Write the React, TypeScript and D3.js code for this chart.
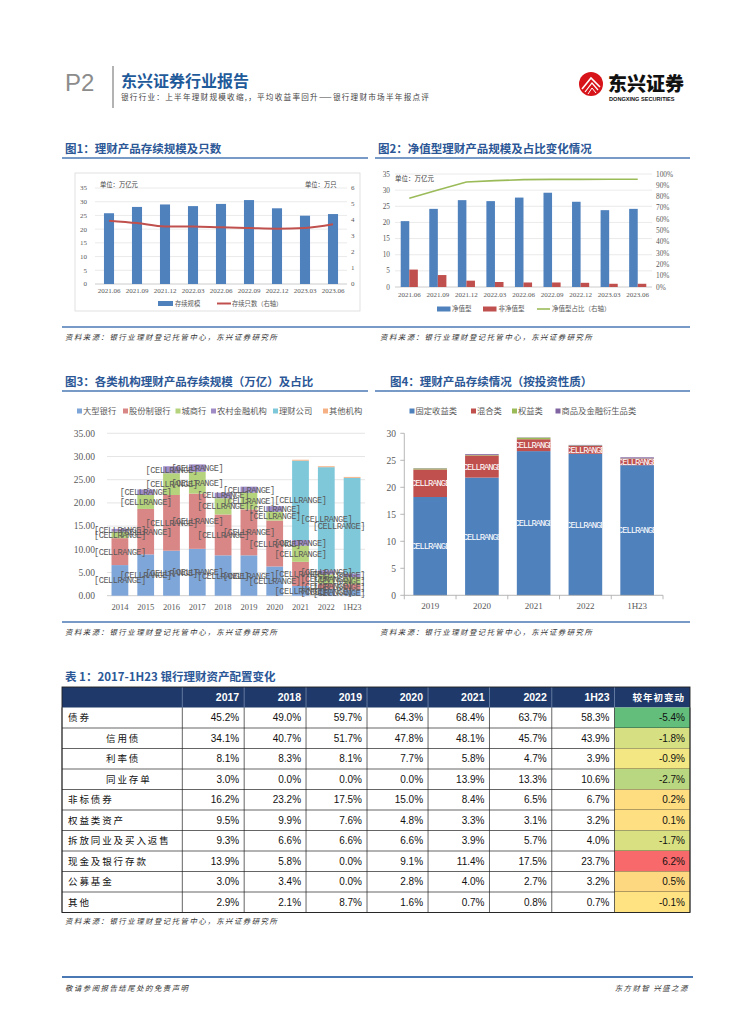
import React from "react";
import * as d3 from "d3";

const CJK = "'Noto Sans CJK SC', 'Noto Sans', sans-serif";
const SERIF = "'Liberation Serif', 'DejaVu Serif', serif";
const MONO = "'Liberation Mono', 'DejaVu Sans Mono', monospace";
const ARIAL = "'Liberation Sans', Arial, sans-serif";
const TITLE_BLUE = "#2b5797";
const RULE_BLUE = "#4a78b5";
const AXIS_GREY = "#595959";

// ---------------- Chart 1 data ----------------
const c1Periods = ["2021.06", "2021.09", "2021.12", "2022.03", "2022.06", "2022.09", "2022.12", "2023.03", "2023.06"];
const c1Balance = [25.8, 28.1, 29.0, 28.4, 29.2, 30.6, 27.6, 24.9, 25.5];
const c1Count = [3.96, 3.81, 3.6, 3.6, 3.54, 3.5, 3.46, 3.5, 3.73];
const c1LeftTicks = [0, 5, 10, 15, 20, 25, 30, 35];
const c1RightTicks = [0, 1, 2, 3, 4, 5, 6];

// ---------------- Chart 2 data ----------------
const c2Periods = ["2021.06", "2021.09", "2021.12", "2022.03", "2022.06", "2022.09", "2022.12", "2023.03", "2023.06"];
const c2NetValue = [20.4, 24.2, 26.9, 26.6, 27.7, 29.2, 26.4, 23.8, 24.2];
const c2NonNet = [5.4, 3.7, 1.96, 1.55, 1.4, 1.4, 1.3, 1.0, 1.0];
const c2Share = [78.5, 85.8, 92.9, 94.1, 95.0, 95.2, 95.2, 95.3, 95.3];
const c2LeftTicks = [0, 5, 10, 15, 20, 25, 30, 35];
const c2RightTicks = [0, 10, 20, 30, 40, 50, 60, 70, 80, 90, 100];

// ---------------- Chart 3 data ----------------
const c3Years = ["2014", "2015", "2016", "2017", "2018", "2019", "2020", "2021", "2022", "1H23"];
const c3SeriesNames = ["大型银行", "股份制银行", "城商行", "农村金融机构", "理财公司", "其他机构"];
const c3Large = [6.6, 8.9, 9.7, 10.1, 8.7, 8.7, 6.3, 2.1, 1.5, 1.3];
const c3JointStock = [5.8, 9.8, 12.0, 11.9, 8.8, 9.9, 9.9, 5.2, 1.1, 1.2];
const c3CityComm = [1.4, 3.0, 4.7, 4.7, 3.5, 3.6, 1.9, 3.5, 2.0, 1.5];
const c3Rural = [0.6, 1.2, 1.5, 1.6, 1.2, 1.3, 1.2, 1.2, 0.9, 0.8];
const c3WmCompany = [0, 0, 0, 0, 0, 0, 0, 17.1, 22.2, 20.6];
const c3Other = [0, 0, 0, 0, 0, 0, 0, 0.2, 0.2, 0.2];
const c3Colors = ["#7fa6d9", "#d98686", "#b5d27c", "#9f8cc7", "#7ec8da", "#f5b183"];
const c3Ticks = [0, 5, 10, 15, 20, 25, 30, 35];

// ---------------- Chart 4 data ----------------
const c4Years = ["2019", "2020", "2021", "2022", "1H23"];
const c4SeriesNames = ["固定收益类", "混合类", "权益类", "商品及金融衍生品类"];
const c4Fixed = [18.2, 21.8, 26.7, 26.2, 24.1];
const c4Mixed = [5.1, 4.1, 2.2, 1.45, 1.2];
const c4Equity = [0.2, 0.1, 0.3, 0.1, 0.05];
const c4Commodity = [0.05, 0.15, 0.05, 0.1, 0.2];
const c4Colors = ["#4f81bd", "#c0504d", "#9bbb59", "#8064a2"];
const c4Ticks = [0, 5, 10, 15, 20, 25, 30];

// ---------------- Table data ----------------
const tHeaders = ["2017", "2018", "2019", "2020", "2021", "2022", "1H23", "较年初变动"];
const tItems = ["债券", "信用债", "利率债", "同业存单", "非标债券", "权益类资产", "拆放同业及买入返售", "现金及银行存款", "公募基金", "其他"];
const tIndented = [false, true, true, true, false, false, false, false, false, false];
const t2017 = [45.2, 34.1, 8.1, 3.0, 16.2, 9.5, 9.3, 13.9, 3.0, 2.9];
const t2018 = [49.0, 40.7, 8.3, 0.0, 23.2, 9.9, 6.6, 5.8, 3.4, 2.1];
const t2019 = [59.7, 51.7, 8.1, 0.0, 17.5, 7.6, 6.6, 0.0, 0.0, 8.7];
const t2020 = [64.3, 47.8, 7.7, 0.0, 15.0, 4.8, 6.6, 9.1, 2.8, 1.6];
const t2021 = [68.4, 48.1, 5.8, 13.9, 8.4, 3.3, 3.9, 11.4, 4.0, 0.7];
const t2022 = [63.7, 45.7, 4.7, 13.3, 6.5, 3.1, 5.7, 17.5, 2.7, 0.8];
const t1H23 = [58.3, 43.9, 3.9, 10.6, 6.7, 3.2, 4.0, 23.7, 3.2, 0.7];
const tChange = [-5.4, -1.8, -0.9, -2.7, 0.2, 0.1, -1.7, 6.2, 0.5, -0.1];

const SOURCE = "资料来源：银行业理财登记托管中心，东兴证券研究所";

function Title({ x, y, text, x1, x2 }: { x: number; y: number; text: string; x1: number; x2: number }) {
  return (
    <g>
      <text x={x} y={y} fontFamily={CJK} fontWeight={700} fontSize={11.5} fill={TITLE_BLUE}>{text}</text>
      <line x1={x1} x2={x2} y1={y + 5} y2={y + 5} stroke={RULE_BLUE} strokeWidth={1.5} />
    </g>
  );
}

function Note({ x, y, text, anchor }: { x: number; y: number; text: string; anchor?: string }) {
  return (
    <text x={x} y={y} textAnchor={anchor ?? "start"} fontFamily={CJK} fontStyle="italic" fontSize={7.4} letterSpacing={1.5} fill="#333">{text}</text>
  );
}

function Header() {
  return (
    <g>
      <text x={65} y={91} fontFamily={ARIAL} fontSize={24} fill="#8c8c8c">P2</text>
      <line x1={113} x2={113} y1={66} y2={108} stroke="#9a9a9a" strokeWidth={1.5} />
      <text x={121} y={87} fontFamily={CJK} fontWeight={700} fontSize={16} fill="#1f5a9a">东兴证券行业报告</text>
      <text x={121} y={100} fontFamily={CJK} fontSize={7.6} letterSpacing={1.25} fill="#444">银行行业：上半年理财规模收缩,，平均收益率回升——银行理财市场半年报点评</text>
      <circle cx={591} cy={84} r={12} fill="#d7141a" />
      <path d="M582 89 L591 78 L600 87" fill="none" stroke="#fff" strokeWidth={1.6} />
      <path d="M585 92 L592 83 L598 90" fill="none" stroke="#fff" strokeWidth={1.2} />
      <path d="M588 94 L592 88 L596 93" fill="none" stroke="#fff" strokeWidth={1} />
      <text x={608} y={91} fontFamily={CJK} fontWeight={900} fontSize={19} fill="#111">东兴证券</text>
      <text x={609} y={101} fontFamily={ARIAL} fontWeight={700} fontSize={5.6} fill="#111">DONGXING SECURITIES</text>
    </g>
  );
}

function Chart1() {
  const x = d3.scaleBand<string>().domain(c1Periods).range([95, 347]).paddingInner(0.64).paddingOuter(0.32);
  const yL = d3.scaleLinear().domain([0, 35]).range([284, 188]);
  const yR = d3.scaleLinear().domain([0, 6]).range([284, 188]);
  const cx = (p: string) => (x(p) ?? 0) + x.bandwidth() / 2;
  const line = d3.line<number>().x((_, i) => cx(c1Periods[i])).y((d) => yR(d)).curve(d3.curveMonotoneX);
  return (
    <g>
      <Title x={65} y={153} text="图1：理财产品存续规模及只数" x1={62} x2={368} />
      <rect x={75} y={173} width={285} height={138} fill="none" stroke="#d9d9d9" strokeWidth={0.8} />
      {c1LeftTicks.map((t) => (
        <line key={"g" + t} x1={95} x2={347} y1={yL(t)} y2={yL(t)} stroke={t === 0 ? "#bfbfbf" : "#e4e4e4"} strokeWidth={0.8} />
      ))}
      {c1LeftTicks.map((t) => (
        <text key={"l" + t} x={87} y={yL(t)} dy="0.35em" textAnchor="end" fontFamily={SERIF} fontSize={7} fill={AXIS_GREY}>{t}</text>
      ))}
      {c1RightTicks.map((t) => (
        <text key={"r" + t} x={351} y={yR(t)} dy="0.35em" fontFamily={SERIF} fontSize={7} fill={AXIS_GREY}>{t}</text>
      ))}
      {c1Periods.map((p, i) => (
        <rect key={p} x={x(p)} y={yL(c1Balance[i])} width={x.bandwidth()} height={yL(0) - yL(c1Balance[i])} fill="#4f81bd" />
      ))}
      <path d={line(c1Count) ?? ""} fill="none" stroke="#c0504d" strokeWidth={2} />
      {c1Periods.map((p) => (
        <text key={"x" + p} x={cx(p)} y={291} dy="0.35em" textAnchor="middle" fontFamily={SERIF} fontSize={7} fill={AXIS_GREY}>{p}</text>
      ))}
      <text x={100} y={184.5} dy="0.35em" fontFamily={CJK} fontSize={6.3} fill="#404040">单位：万亿元</text>
      <text x={305} y={184.5} dy="0.35em" fontFamily={CJK} fontSize={6.3} fill="#404040">单位：万只</text>
      <rect x={158} y={301} width={15} height={5} fill="#4f81bd" />
      <text x={175} y={303.5} dy="0.35em" fontFamily={CJK} fontSize={6.3} fill={AXIS_GREY}>存续规模</text>
      <line x1={217} x2={231} y1={303.5} y2={303.5} stroke="#c0504d" strokeWidth={2} />
      <text x={232} y={303.5} dy="0.35em" fontFamily={CJK} fontSize={6.3} fill={AXIS_GREY}>存续只数（右轴）</text>
    </g>
  );
}

function Chart2() {
  const x = d3.scaleBand<string>().domain(c2Periods).range([395, 652]).paddingInner(0.4).paddingOuter(0.2);
  const x1 = d3.scaleBand<string>().domain(["net", "non"]).range([0, x.bandwidth()]);
  const yL = d3.scaleLinear().domain([0, 35]).range([287, 174]);
  const yR = d3.scaleLinear().domain([0, 100]).range([287, 174]);
  const cx = (p: string) => (x(p) ?? 0) + x.bandwidth() / 2;
  const line = d3.line<number>().x((_, i) => cx(c2Periods[i])).y((d) => yR(d));
  return (
    <g>
      <Title x={378} y={153} text="图2：净值型理财产品规模及占比变化情况" x1={375} x2={690} />
      {c2LeftTicks.map((t) => (
        <line key={"g" + t} x1={395} x2={652} y1={yL(t)} y2={yL(t)} stroke={t === 0 ? "#bfbfbf" : "#e4e4e4"} strokeWidth={0.8} />
      ))}
      {c2LeftTicks.map((t) => (
        <text key={"l" + t} x={390} y={yL(t)} dy="0.35em" textAnchor="end" fontFamily={SERIF} fontSize={7.3} fill={AXIS_GREY}>{t}</text>
      ))}
      {c2RightTicks.map((t) => (
        <text key={"r" + t} x={656} y={yR(t)} dy="0.35em" fontFamily={SERIF} fontSize={7.3} fill={AXIS_GREY}>{t + "%"}</text>
      ))}
      {c2Periods.map((p, i) => (
        <g key={p}>
          <rect x={(x(p) ?? 0) + (x1("net") ?? 0)} y={yL(c2NetValue[i])} width={x1.bandwidth()} height={yL(0) - yL(c2NetValue[i])} fill="#4f81bd" />
          <rect x={(x(p) ?? 0) + (x1("non") ?? 0)} y={yL(c2NonNet[i])} width={x1.bandwidth()} height={yL(0) - yL(c2NonNet[i])} fill="#c0504d" />
        </g>
      ))}
      <text x={395} y={179} dy="0.35em" fontFamily={CJK} fontSize={6.5} fill="#404040">单位：万亿元</text>
      <path d={line(c2Share) ?? ""} fill="none" stroke="#9bbb59" strokeWidth={1.6} />
      {c2Periods.map((p) => (
        <text key={"x" + p} x={cx(p)} y={295} dy="0.35em" textAnchor="middle" fontFamily={SERIF} fontSize={7} fill={AXIS_GREY}>{p}</text>
      ))}
      <rect x={437} y={306.5} width={13.5} height={5} fill="#4f81bd" />
      <text x={452} y={309} dy="0.35em" fontFamily={CJK} fontSize={6.5} fill={AXIS_GREY}>净值型</text>
      <rect x={483} y={306.5} width={13.5} height={5} fill="#c0504d" />
      <text x={498.5} y={309} dy="0.35em" fontFamily={CJK} fontSize={6.5} fill={AXIS_GREY}>非净值型</text>
      <line x1={537} x2={550} y1={309} y2={309} stroke="#9bbb59" strokeWidth={1.6} />
      <text x={552} y={309} dy="0.35em" fontFamily={CJK} fontSize={6.5} fill={AXIS_GREY}>净值型占比（右轴）</text>
    </g>
  );
}

function Chart3() {
  const x = d3.scaleBand<string>().domain(c3Years).range([107, 365]).paddingInner(0.35).paddingOuter(0.175);
  const y = d3.scaleLinear().domain([0, 35]).range([595.7, 433.3]);
  const cols = [c3Large, c3JointStock, c3CityComm, c3Rural, c3WmCompany, c3Other];
  const rows = c3Years.map((yr, i) => {
    const r: Record<string, number | string> = { year: yr };
    c3SeriesNames.forEach((s, k) => (r[s] = cols[k][i]));
    return r;
  });
  const stack = d3.stack<Record<string, number | string>>().keys(c3SeriesNames).value((d, k) => d[k] as number);
  const layers = stack(rows);
  const legendX = [77, 123, 175.5, 211, 273, 323];
  const half = 26;
  return (
    <g>
      <Title x={65} y={386} text="图3：各类机构理财产品存续规模（万亿）及占比" x1={62} x2={368} />
      {c3SeriesNames.map((s, k) => (
        <g key={s}>
          <rect x={legendX[k]} y={408.5} width={5} height={5} fill={c3Colors[k]} />
          <text x={legendX[k] + 6} y={411} dy="0.35em" fontFamily={CJK} fontSize={8.3} fill={AXIS_GREY}>{s}</text>
        </g>
      ))}
      {c3Ticks.map((t) => (
        <line key={"g" + t} x1={107} x2={365} y1={y(t)} y2={y(t)} stroke={t === 0 ? "#bfbfbf" : "#dedede"} strokeWidth={0.8} />
      ))}
      {c3Ticks.map((t) => (
        <text key={"l" + t} x={95} y={y(t)} dy="0.35em" textAnchor="end" fontFamily={SERIF} fontSize={9.5} fill={AXIS_GREY}>{d3.format(".2f")(t)}</text>
      ))}
      {layers.map((layer, k) => (
        <g key={"s" + k} fill={c3Colors[k]}>
          {layer.map((seg, i) =>
            seg[1] - seg[0] > 0 ? (
              <rect key={i} x={x(c3Years[i])} y={y(seg[1])} width={x.bandwidth()} height={y(seg[0]) - y(seg[1])} />
            ) : null
          )}
        </g>
      ))}
      {layers.slice(0, 5).map((layer, k) =>
        layer.map((seg, i) => {
          if (seg[1] - seg[0] <= 0) return null;
          const c = (x(c3Years[i]) ?? 0) + x.bandwidth() / 2;
          const lx = Math.min(c, 365 - half);
          return (
            <text key={"t" + k + "-" + i} x={lx} y={(y(seg[0]) + y(seg[1])) / 2} dy="0.35em" textAnchor="middle" fontFamily={MONO} fontSize={8.6} letterSpacing={-0.45} fill="#595959">[CELLRANGE]</text>
          );
        })
      )}
      {c3Years.map((yr) => (
        <text key={"x" + yr} x={(x(yr) ?? 0) + x.bandwidth() / 2} y={607} dy="0.35em" textAnchor="middle" fontFamily={SERIF} fontSize={8.5} fill={AXIS_GREY}>{yr}</text>
      ))}
    </g>
  );
}

function Chart4() {
  const x = d3.scaleBand<string>().domain(c4Years).range([404.3, 663]).paddingInner(0.35).paddingOuter(0.175);
  const y = d3.scaleLinear().domain([0, 30]).range([595.3, 433.3]);
  const cols = [c4Fixed, c4Mixed, c4Equity, c4Commodity];
  const rows = c4Years.map((yr, i) => {
    const r: Record<string, number | string> = { year: yr };
    c4SeriesNames.forEach((s, k) => (r[s] = cols[k][i]));
    return r;
  });
  const layers = d3.stack<Record<string, number | string>>().keys(c4SeriesNames).value((d, k) => d[k] as number)(rows);
  const legendX = [409.5, 471, 512, 555.5];
  const step = x.step();
  const bounds = c4Years.map((_, i) => 404.3 + i * step);
  return (
    <g>
      <Title x={390} y={386} text="图4：理财产品存续情况（按投资性质）" x1={375} x2={690} />
      <defs>
        {c4Years.map((yr, i) => (
          <clipPath id={"c4clip" + i} key={yr}>
            <rect x={x(yr)} y={0} width={x.bandwidth()} height={1024} />
          </clipPath>
        ))}
      </defs>
      {c4SeriesNames.map((s, k) => (
        <g key={s}>
          <rect x={legendX[k]} y={408.5} width={5} height={5} fill={c4Colors[k]} />
          <text x={legendX[k] + 6} y={411} dy="0.35em" fontFamily={CJK} fontSize={8.3} fill={AXIS_GREY}>{s}</text>
        </g>
      ))}
      {layers.map((layer, k) => (
        <g key={"s" + k} fill={c4Colors[k]}>
          {layer.map((seg, i) => (
            <rect key={i} x={x(c4Years[i])} y={y(seg[1])} width={x.bandwidth()} height={y(seg[0]) - y(seg[1])} />
          ))}
        </g>
      ))}
      {layers.slice(0, 2).map((layer, k) =>
        layer.map((seg, i) => (
          <text key={"t" + k + i} clipPath={`url(#c4clip${i})`} x={(x(c4Years[i]) ?? 0) + x.bandwidth() / 2} y={(y(seg[0]) + y(seg[1])) / 2} dy="0.35em" textAnchor="middle" fontFamily={MONO} fontSize={8.8} letterSpacing={-1} fill="#fff">[CELLRANGE]</text>
        ))
      )}
      <line x1={404.3} x2={404.3} y1={433.3} y2={595.3} stroke="#a6a6a6" strokeWidth={0.8} />
      <line x1={404.3} x2={663} y1={595.3} y2={595.3} stroke="#a6a6a6" strokeWidth={0.8} />
      {c4Ticks.map((t) => (
        <g key={"l" + t}>
          <line x1={400.3} x2={404.3} y1={y(t)} y2={y(t)} stroke="#a6a6a6" strokeWidth={0.8} />
          <text x={396} y={y(t)} dy="0.35em" textAnchor="end" fontFamily={SERIF} fontSize={9.5} fill={AXIS_GREY}>{t}</text>
        </g>
      ))}
      {[...bounds, 663].map((bx, i) => (
        <line key={"b" + i} x1={bx} x2={bx} y1={595.3} y2={599.3} stroke="#a6a6a6" strokeWidth={0.8} />
      ))}
      {c4Years.map((yr) => (
        <text key={"x" + yr} x={(x(yr) ?? 0) + x.bandwidth() / 2} y={606} dy="0.35em" textAnchor="middle" fontFamily={SERIF} fontSize={9} fill={AXIS_GREY}>{yr}</text>
      ))}
    </g>
  );
}

function SourceRow({ y }: { y: number }) {
  return (
    <g>
      <line x1={62} x2={690} y1={y} y2={y} stroke={RULE_BLUE} strokeWidth={1.5} />
      <Note x={65} y={y + 13} text={SOURCE} />
      <Note x={380} y={y + 13} text={SOURCE} />
    </g>
  );
}

function Table() {
  const left = 62;
  const right = 690;
  const fr = [0, 0.1916, 0.2901, 0.3886, 0.4857, 0.5829, 0.6807, 0.7799, 0.8798, 1.0];
  const colX = d3.scaleLinear().domain([0, 1]).range([left, right]);
  const edges = fr.map((f) => colX(f));
  const top = 687;
  const headH = 20.5;
  const rowH = 20.5;
  const columns = [t2017, t2018, t2019, t2020, t2021, t2022, t1H23];
  const med = d3.median(tChange) ?? 0;
  const color = d3
    .scaleLinear<string>()
    .domain([d3.min(tChange) ?? 0, med, d3.max(tChange) ?? 0])
    .range(["#63be7b", "#ffeb84", "#f8696b"]);
  const fmt = (v: number) => v.toFixed(1) + "%";
  const bottom = top + headH + rowH * tItems.length;
  return (
    <g>
      <text x={65} y={681} fontFamily={CJK} fontWeight={700} fontSize={11.5} fill={TITLE_BLUE}>表 1：2017-1H23 银行理财资产配置变化</text>
      <rect x={left} y={top} width={right - left} height={headH} fill="#1f3a6a" />
      {tHeaders.map((h, j) => (
        <text key={h} x={edges[j + 2] - 5} y={top + headH / 2} dy="0.35em" textAnchor="end" fontFamily={j === 7 ? CJK : ARIAL} fontWeight={700} fontSize={j === 7 ? 9.5 : 10.5} letterSpacing={j === 7 ? 1 : 0} fill="#fff">{h}</text>
      ))}
      {edges.slice(1, -1).map((ex, j) => (
        <line key={"hs" + j} x1={ex} x2={ex} y1={top} y2={top + headH} stroke="#8fa3c4" strokeWidth={0.6} />
      ))}
      {tItems.map((item, r) => {
        const ry = top + headH + r * rowH;
        return (
          <g key={item}>
            <rect x={edges[8]} y={ry} width={edges[9] - edges[8]} height={rowH} fill={color(tChange[r])} />
            <text x={tIndented[r] ? left + 44 : left + 6} y={ry + rowH / 2} dy="0.35em" fontFamily={CJK} fontSize={9.5} letterSpacing={1.9} fill="#111">{item}</text>
            {columns.map((col, j) => (
              <text key={j} x={edges[j + 2] - 5} y={ry + rowH / 2} dy="0.35em" textAnchor="end" fontFamily={ARIAL} fontSize={10} fill="#111">{fmt(col[r])}</text>
            ))}
            <text x={edges[9] - 5} y={ry + rowH / 2} dy="0.35em" textAnchor="end" fontFamily={ARIAL} fontSize={10} fill="#111">{fmt(tChange[r])}</text>
            <line x1={left} x2={right} y1={ry + rowH} y2={ry + rowH} stroke="#222" strokeWidth={0.7} />
          </g>
        );
      })}
      {edges.map((ex, j) => (
        <line key={"v" + j} x1={ex} x2={ex} y1={top + headH} y2={bottom} stroke="#222" strokeWidth={0.7} />
      ))}
      <rect x={left} y={top} width={right - left} height={bottom - top} fill="none" stroke="#222" strokeWidth={0.9} />
      <Note x={65} y={924} text={SOURCE} />
    </g>
  );
}

function Footer() {
  return (
    <g>
      <line x1={62} x2={693} y1={977} y2={977} stroke="#4a78b5" strokeWidth={2} />
      <Note x={65} y={991} text="敬请参阅报告结尾处的免责声明" />
      <Note x={689} y={991} text="东方财智 兴盛之源" anchor="end" />
    </g>
  );
}

export default function App() {
  return (
    <div style={{ position: "absolute", left: 0, top: 0, width: 755, height: 1024, background: "#fff" }}>
      <svg width={755} height={1024} style={{ display: "block" }}>
        <rect width={755} height={1024} fill="#fff" />
        <Header />
        <Chart1 />
        <Chart2 />
        <SourceRow y={327} />
        <Chart3 />
        <Chart4 />
        <SourceRow y={622} />
        <Table />
        <Footer />
      </svg>
    </div>
  );
}
